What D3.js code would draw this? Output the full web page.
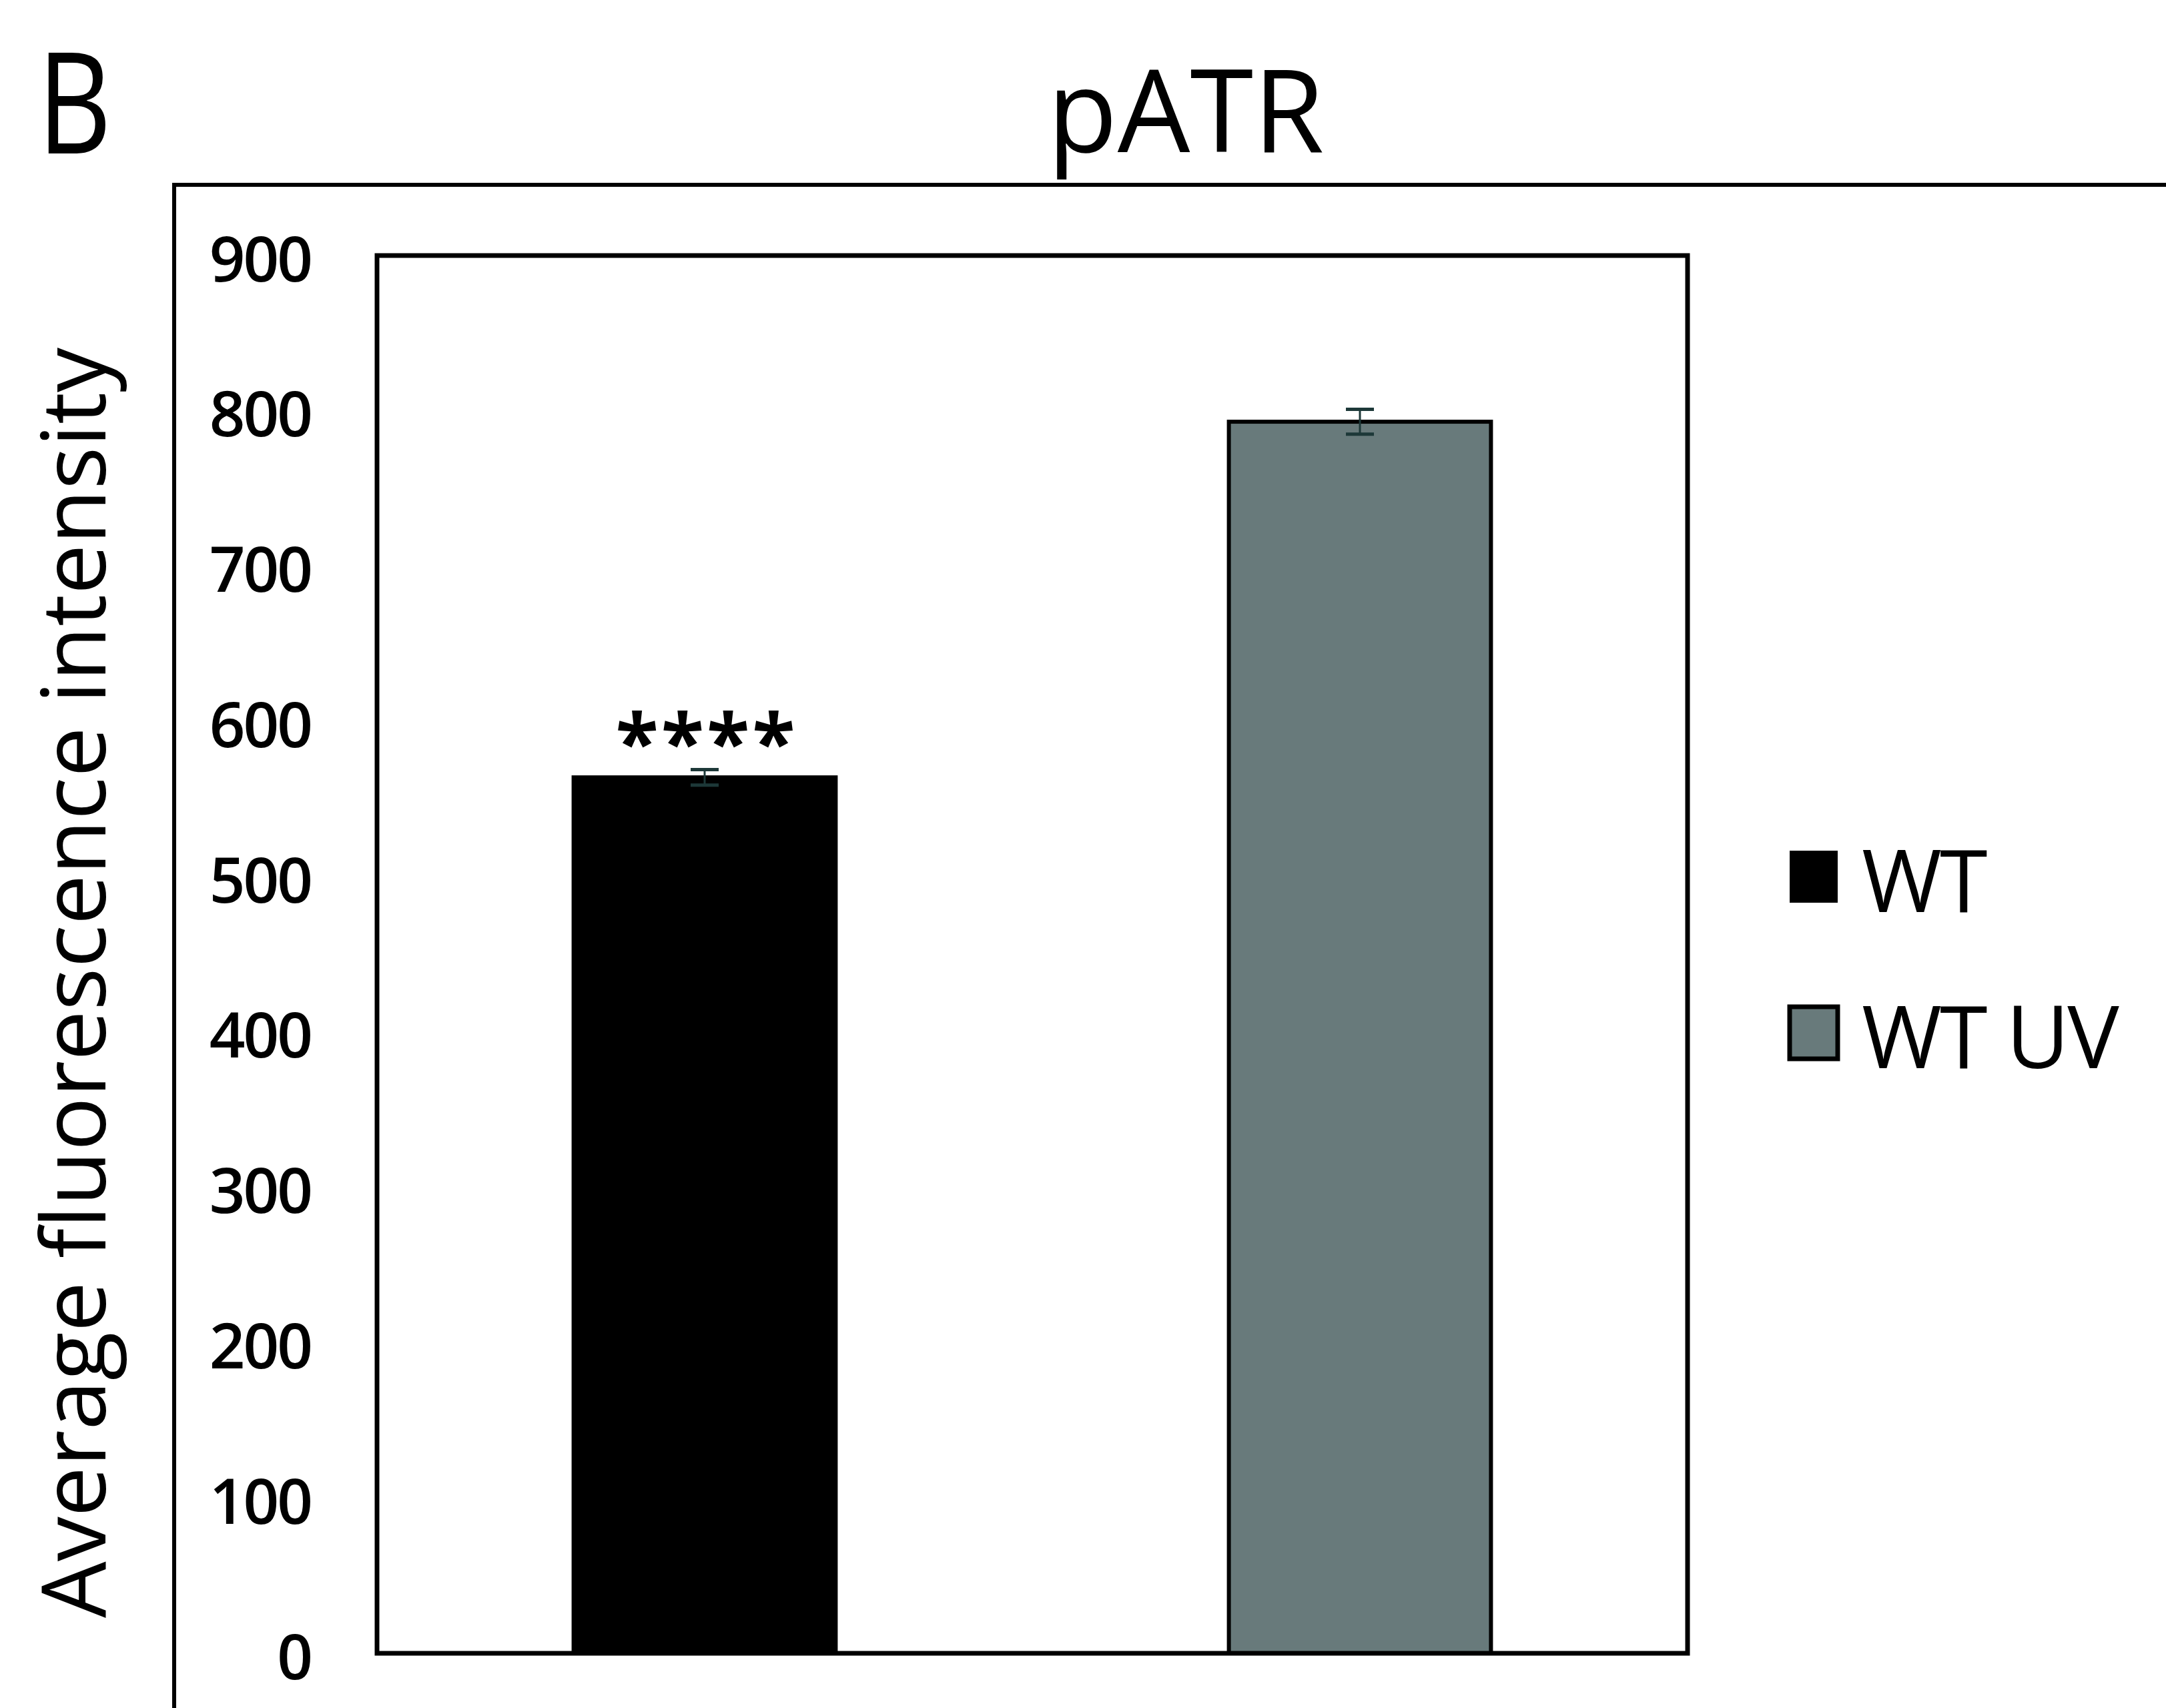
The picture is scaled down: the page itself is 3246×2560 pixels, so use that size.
<!DOCTYPE html>
<html>
<head>
<meta charset="utf-8">
<title>pATR</title>
<script src="https://d3js.org/d3.v7.min.js"></script>
<style>
  body { margin: 0; background: #fff; }
  svg { display: block; font-family: "Open Sans", "DejaVu Sans", sans-serif; }
</style>
</head>
<body>
<svg width="3246" height="2560"></svg>
<script>
// data
var categories = ["WT", "WT UV"];
var values = [564, 793];
var errors = [5, 8];
var stars = ["****", ""];
var barColors = ["#000000", "#687a7b"];
var yTicks = [0, 100, 200, 300, 400, 500, 600, 700, 800, 900];

var svg = d3.select("svg");

var plot = { left: 565, right: 2529, top: 383, bottom: 2478 };

var x = d3.scaleBand()
  .domain(categories)
  .range([plot.left, plot.right])
  .paddingInner(0.6)
  .paddingOuter(0.3);

var y = d3.scaleLinear()
  .domain([0, 900])
  .range([plot.bottom, plot.top]);

var color = d3.scaleOrdinal().domain(categories).range(barColors);

// outer panel frame (runs off the right and bottom)
svg.append("path")
  .attr("d", "M261,2600 V277 H3300")
  .attr("fill", "none")
  .attr("stroke", "#000")
  .attr("stroke-width", 6);

// panel letter and title
svg.append("text")
  .attr("transform", "translate(56,230) scale(0.82,1)")
  .attr("font-size", 210)
  .text("B");

svg.append("text")
  .attr("x", 1777).attr("y", 228)
  .attr("text-anchor", "middle")
  .attr("font-size", 172)
  .text("pATR");

// y axis title
svg.append("text")
  .attr("transform", "translate(158,1473) rotate(-90)")
  .attr("text-anchor", "middle")
  .attr("font-size", 134)
  .text("Average fluorescence intensity");

// bars
var data = categories.map(function(c, i) {
  return { cat: c, value: values[i], err: errors[i], sig: stars[i] };
});

svg.append("g")
  .selectAll("rect")
  .data(data)
  .enter().append("rect")
    .attr("x", function(d) { return x(d.cat); })
    .attr("y", function(d) { return y(d.value); })
    .attr("width", x.bandwidth())
    .attr("height", function(d) { return y(0) - y(d.value); })
    .attr("fill", function(d) { return color(d.cat); })
    .attr("stroke", "#000")
    .attr("stroke-width", 6);

// error bars
var eb = svg.append("g")
  .attr("stroke", "#1d3838");
data.forEach(function(d) {
  var cx = x(d.cat) + x.bandwidth() / 2;
  eb.append("line")
    .attr("x1", cx).attr("x2", cx)
    .attr("y1", y(d.value + d.err)).attr("y2", y(d.value - d.err))
    .attr("stroke-width", 3);
  [d.value + d.err, d.value - d.err].forEach(function(v) {
    eb.append("line")
      .attr("x1", cx - 21).attr("x2", cx + 21)
      .attr("y1", y(v)).attr("y2", y(v))
      .attr("stroke-width", 5);
  });
});

// significance stars
svg.append("g")
  .selectAll("text")
  .data(data)
  .enter().append("text")
    .attr("x", function(d) { return x(d.cat) + x.bandwidth() / 2 + 3; })
    .attr("y", function(d) { return y(d.value + d.err) + 2; })
    .attr("text-anchor", "middle")
    .attr("font-size", 118)
    .attr("font-weight", 700)
    .attr("letter-spacing", 4)
    .text(function(d) { return d.sig; });

// plot frame
svg.append("rect")
  .attr("x", plot.left).attr("y", plot.top)
  .attr("width", plot.right - plot.left)
  .attr("height", plot.bottom - plot.top)
  .attr("fill", "none")
  .attr("stroke", "#000")
  .attr("stroke-width", 7);

// y axis labels
svg.append("g")
  .attr("transform", "translate(" + plot.left + ",8)")
  .call(d3.axisLeft(y).tickValues(yTicks).tickSize(0).tickPadding(99))
  .call(function(g) { g.select(".domain").remove(); })
  .selectAll("text")
    .attr("font-family", "\"Open Sans\", sans-serif")
    .attr("font-size", 94)
    .attr("font-weight", 600)
    .attr("letter-spacing", -3)
    .attr("fill", "#000");

// legend
var legend = svg.append("g");
var legendY = [1272, 1506];
categories.forEach(function(c, i) {
  legend.append("rect")
    .attr("x", 2682).attr("y", legendY[i] + 3)
    .attr("width", 72).attr("height", 78)
    .attr("fill", color(c))
    .attr("stroke", "#000")
    .attr("stroke-width", i ? 7 : 0);
  legend.append("text")
    .attr("x", 2790).attr("y", legendY[i] + 95)
    .attr("font-size", 130)
    .attr("letter-spacing", -3)
    .text(c);
});
</script>
</body>
</html>
